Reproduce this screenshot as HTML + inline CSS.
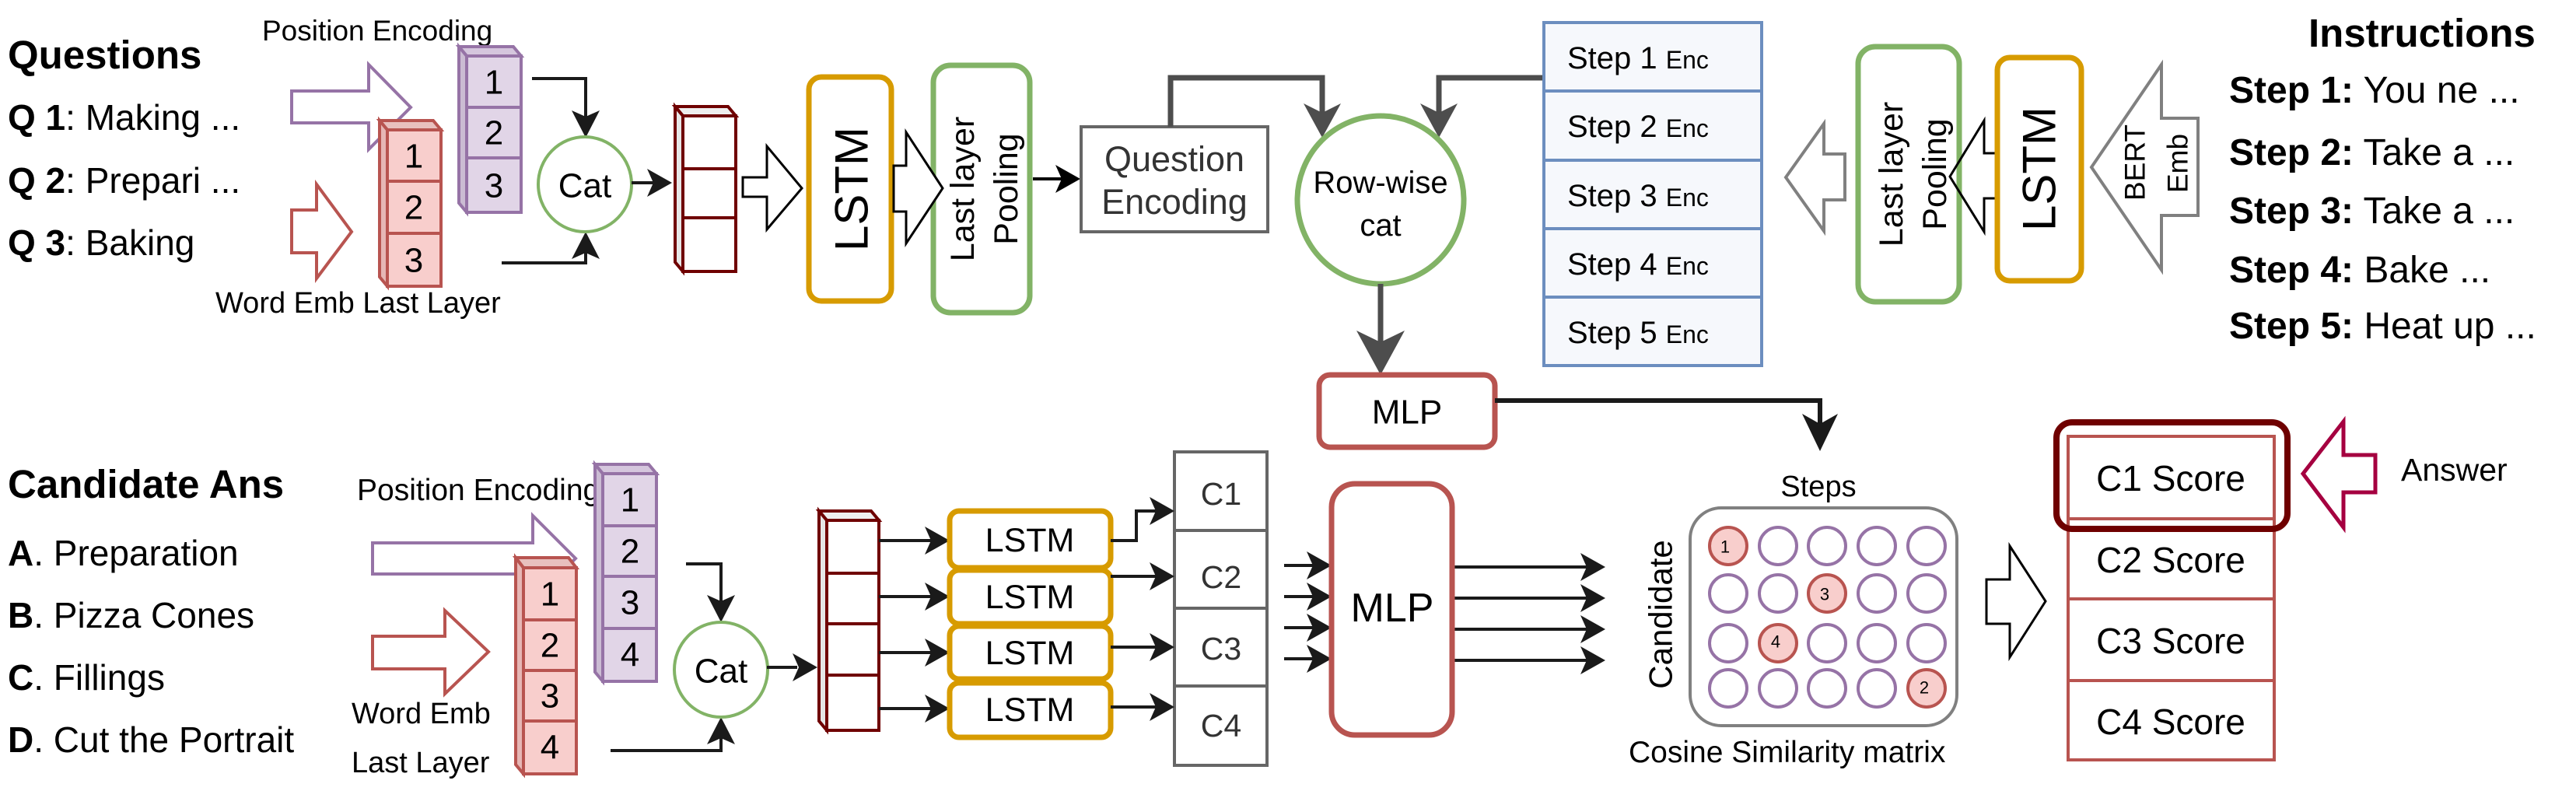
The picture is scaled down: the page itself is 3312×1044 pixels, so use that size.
<!DOCTYPE html>
<html><head><meta charset="utf-8"><style>
html,body{margin:0;padding:0;background:#fff;}
svg{display:block;}
text{font-family:"Liberation Sans",Arial,sans-serif;fill:#000;}
.b{font-weight:bold;}
</style></head><body>
<svg width="3312" height="1044" viewBox="0 0 3312 1044" xmlns="http://www.w3.org/2000/svg">

<text x="10" y="88" class="b" font-size="51">Questions</text>
<text x="10" y="167" font-size="46"><tspan class="b">Q 1</tspan>: Making ...</text>
<text x="10" y="248" font-size="46"><tspan class="b">Q 2</tspan>: Prepari ...</text>
<text x="10" y="328" font-size="46"><tspan class="b">Q 3</tspan>: Baking</text>
<text x="337" y="52" font-size="37">Position Encoding</text>
<text x="277" y="402" font-size="38">Word Emb Last Layer</text>

<polygon points="375,117 474,117 474,83 528,138 474,192 474,158 375,158" fill="#fff" stroke="#9673a6" stroke-width="4"/>
<polygon points="375,270 407,270 407,237 452,298 407,358 407,325 375,325" fill="#fff" stroke="#b85450" stroke-width="4"/>

<g stroke="#9673a6" stroke-width="4">
<polygon points="590,60 660,60 670,72 600,72" fill="#d5c6dd"/>
<polygon points="590,60 600,72 600,273 590,261" fill="#cbbcd3"/>
<rect x="600" y="72" width="70" height="66" fill="#e1d5e7"/>
<rect x="600" y="138" width="70" height="65" fill="#e1d5e7"/>
<rect x="600" y="203" width="70" height="70" fill="#e1d5e7"/>
</g>
<text x="635" y="106" font-size="44" text-anchor="middle" dominant-baseline="central">1</text>
<text x="635" y="171" font-size="44" text-anchor="middle" dominant-baseline="central">2</text>
<text x="635" y="239" font-size="44" text-anchor="middle" dominant-baseline="central">3</text>

<g stroke="#b85450" stroke-width="4">
<polygon points="488,155 557,155 567,167 498,167" fill="#e8c0be"/>
<polygon points="488,155 498,167 498,368 488,356" fill="#e6b7b5"/>
<rect x="498" y="167" width="69" height="66" fill="#f8cecc"/>
<rect x="498" y="233" width="69" height="67" fill="#f8cecc"/>
<rect x="498" y="300" width="69" height="68" fill="#f8cecc"/>
</g>
<text x="532" y="201" font-size="44" text-anchor="middle" dominant-baseline="central">1</text>
<text x="532" y="267" font-size="44" text-anchor="middle" dominant-baseline="central">2</text>
<text x="532" y="335" font-size="44" text-anchor="middle" dominant-baseline="central">3</text>

<path d="M684 101 H753 V150" fill="none" stroke="#1a1a1a" stroke-width="4"/>
<polygon points="753,177 735,142 753,150 771,142" fill="#1a1a1a"/>
<path d="M645 338 H753 V325" fill="none" stroke="#1a1a1a" stroke-width="4"/>
<polygon points="753,298 735,333 753,325 771,333" fill="#1a1a1a"/>
<ellipse cx="752" cy="237" rx="60" ry="61" fill="#fff" stroke="#82b366" stroke-width="4"/>
<text x="752" y="239" font-size="44" text-anchor="middle" dominant-baseline="central">Cat</text>
<path d="M812 235 H840" stroke="#1a1a1a" stroke-width="4"/>
<polygon points="864,235 832,217 840,235 832,253" fill="#1a1a1a"/>

<g stroke="#6f0000" stroke-width="4">
<polygon points="868,137 936,137 946,149 878,149" fill="#eee"/>
<polygon points="868,137 878,149 878,349 868,337" fill="#e6e6e6"/>
<rect x="878" y="149" width="68" height="68" fill="#fff"/>
<rect x="878" y="217" width="68" height="63" fill="#fff"/>
<rect x="878" y="280" width="68" height="69" fill="#fff"/>
</g>
<polygon points="955,228 986,228 986,188 1031,242 986,295 986,253 955,253" fill="#fff" stroke="#000" stroke-width="3"/>

<rect x="1040" y="99" width="106" height="288" rx="16" fill="#fff" stroke="#d79b00" stroke-width="7"/>
<text x="1095" y="243" font-size="60" text-anchor="middle" dominant-baseline="central" transform="rotate(-90 1095 243)">LSTM</text>
<rect x="1200" y="84" width="124" height="318" rx="22" fill="#fff" stroke="#82b366" stroke-width="7"/>
<polygon points="1149,213 1165,213 1165,170 1212,242 1165,313 1165,272 1149,272" fill="#fff" stroke="#000" stroke-width="3"/>
<text x="1238" y="243" font-size="43" text-anchor="middle" dominant-baseline="central" transform="rotate(-90 1238 243)">Last layer</text>
<text x="1294" y="243" font-size="43" text-anchor="middle" dominant-baseline="central" transform="rotate(-90 1294 243)">Pooling</text>
<path d="M1328 230 H1365" stroke="#000" stroke-width="4"/>
<polygon points="1389,230 1357,212 1365,230 1357,248" fill="#000"/>

<rect x="1390" y="163" width="240" height="135" fill="#fff" stroke="#666" stroke-width="4"/>
<text x="1510" y="220" font-size="45" text-anchor="middle" style="fill:#333">Question</text>
<text x="1510" y="275" font-size="45" text-anchor="middle" style="fill:#333">Encoding</text>

<path d="M1505 163 V100 H1700 V150" fill="none" stroke="#4d4d4d" stroke-width="7"/>
<polygon points="1700,177 1676,133 1700,145 1724,133" fill="#4d4d4d"/>
<path d="M1985 100 H1850 V150" fill="none" stroke="#4d4d4d" stroke-width="7"/>
<polygon points="1850,177 1826,133 1850,145 1874,133" fill="#4d4d4d"/>

<ellipse cx="1775" cy="257" rx="107" ry="108" fill="#fff" stroke="#82b366" stroke-width="7"/>
<text x="1775" y="248" font-size="40" text-anchor="middle">Row-wise</text>
<text x="1775" y="303" font-size="40" text-anchor="middle">cat</text>
<path d="M1775 365 V440" stroke="#4d4d4d" stroke-width="7"/>
<polygon points="1775,482 1744,425 1775,440 1806,425" fill="#4d4d4d"/>

<g stroke="#6c8ebf" stroke-width="4" fill="#f6f8fc">
<rect x="1985" y="29" width="280" height="88"/>
<rect x="1985" y="117" width="280" height="89"/>
<rect x="1985" y="206" width="280" height="88"/>
<rect x="1985" y="294" width="280" height="88"/>
<rect x="1985" y="382" width="280" height="88"/>
</g>
<text x="2015" y="88" font-size="40">Step 1 <tspan font-size="32">Enc</tspan></text>
<text x="2015" y="176" font-size="40">Step 2 <tspan font-size="32">Enc</tspan></text>
<text x="2015" y="265" font-size="40">Step 3 <tspan font-size="32">Enc</tspan></text>
<text x="2015" y="353" font-size="40">Step 4 <tspan font-size="32">Enc</tspan></text>
<text x="2015" y="441" font-size="40">Step 5 <tspan font-size="32">Enc</tspan></text>

<polygon points="2296,228 2345,159 2345,198 2372,198 2372,257 2345,257 2345,297" fill="#fff" stroke="#808080" stroke-width="4"/>
<rect x="2389" y="60" width="130" height="328" rx="22" fill="#fff" stroke="#82b366" stroke-width="7"/>
<text x="2432" y="224" font-size="43" text-anchor="middle" dominant-baseline="central" transform="rotate(-90 2432 224)">Last layer</text>
<text x="2488" y="224" font-size="43" text-anchor="middle" dominant-baseline="central" transform="rotate(-90 2488 224)">Pooling</text>
<polygon points="2507,227 2551,155 2551,197 2566,197 2566,255 2551,255 2551,298" fill="none" stroke="#000" stroke-width="3"/>
<rect x="2568" y="74" width="108" height="287" rx="16" fill="#fff" stroke="#d79b00" stroke-width="7"/>
<text x="2622" y="217" font-size="60" text-anchor="middle" dominant-baseline="central" transform="rotate(-90 2622 217)">LSTM</text>
<polygon points="2689,215 2779,83 2779,152 2826,152 2826,277 2779,277 2779,347" fill="#fff" stroke="#808080" stroke-width="4"/>
<text x="2745" y="209" font-size="37" text-anchor="middle" dominant-baseline="central" transform="rotate(-90 2745 209)">BERT</text>
<text x="2800" y="210" font-size="37" text-anchor="middle" dominant-baseline="central" transform="rotate(-90 2800 210)">Emb</text>

<text x="2968" y="60" class="b" font-size="51">Instructions</text>
<text x="2866" y="132" font-size="48"><tspan class="b">Step 1:</tspan> You ne  ...</text>
<text x="2866" y="212" font-size="48"><tspan class="b">Step 2:</tspan> Take a  ...</text>
<text x="2866" y="287" font-size="48"><tspan class="b">Step 3:</tspan> Take a  ...</text>
<text x="2866" y="363" font-size="48"><tspan class="b">Step 4:</tspan> Bake ...</text>
<text x="2866" y="435" font-size="48"><tspan class="b">Step 5:</tspan> Heat up ...</text>

<rect x="1696" y="482" width="226" height="93" rx="14" fill="#fff" stroke="#b85450" stroke-width="7"/>
<text x="1809" y="530" font-size="44" text-anchor="middle" dominant-baseline="central">MLP</text>
<path d="M1922 515 H2340 V550" fill="none" stroke="#1a1a1a" stroke-width="6"/>
<polygon points="2340,580 2317,532 2340,545 2363,532" fill="#1a1a1a"/>

<text x="10" y="640" class="b" font-size="51">Candidate Ans</text>
<text x="10" y="727" font-size="46"><tspan class="b">A</tspan>. Preparation</text>
<text x="10" y="807" font-size="46"><tspan class="b">B</tspan>. Pizza Cones</text>
<text x="10" y="887" font-size="46"><tspan class="b">C</tspan>. Fillings</text>
<text x="10" y="967" font-size="46"><tspan class="b">D</tspan>. Cut the Portrait</text>
<text x="459" y="643" font-size="39">Position Encoding</text>
<text x="452" y="930" font-size="38">Word Emb</text>
<text x="452" y="993" font-size="38">Last Layer</text>

<polygon points="479,698 685,698 685,663 740,718 685,773 685,738 479,738" fill="#fff" stroke="#9673a6" stroke-width="4"/>
<polygon points="479,818 572,818 572,785 628,838 572,892 572,860 479,860" fill="#fff" stroke="#b85450" stroke-width="4"/>

<g stroke="#9673a6" stroke-width="4">
<polygon points="765,597 834,597 844,609 775,609" fill="#d5c6dd"/>
<polygon points="765,597 775,609 775,876 765,864" fill="#cbbcd3"/>
<rect x="775" y="609" width="69" height="67" fill="#e1d5e7"/>
<rect x="775" y="676" width="69" height="65" fill="#e1d5e7"/>
<rect x="775" y="741" width="69" height="67" fill="#e1d5e7"/>
<rect x="775" y="808" width="69" height="68" fill="#e1d5e7"/>
</g>
<text x="810" y="643" font-size="44" text-anchor="middle" dominant-baseline="central">1</text>
<text x="810" y="709" font-size="44" text-anchor="middle" dominant-baseline="central">2</text>
<text x="810" y="775" font-size="44" text-anchor="middle" dominant-baseline="central">3</text>
<text x="810" y="842" font-size="44" text-anchor="middle" dominant-baseline="central">4</text>

<g stroke="#b85450" stroke-width="4">
<polygon points="663,717 731,717 741,730 673,730" fill="#e8c0be"/>
<polygon points="663,717 673,730 673,995 663,983" fill="#e6b7b5"/>
<rect x="673" y="730" width="68" height="67" fill="#f8cecc"/>
<rect x="673" y="797" width="68" height="65" fill="#f8cecc"/>
<rect x="673" y="862" width="68" height="65" fill="#f8cecc"/>
<rect x="673" y="927" width="68" height="68" fill="#f8cecc"/>
</g>
<text x="707" y="764" font-size="44" text-anchor="middle" dominant-baseline="central">1</text>
<text x="707" y="830" font-size="44" text-anchor="middle" dominant-baseline="central">2</text>
<text x="707" y="895" font-size="44" text-anchor="middle" dominant-baseline="central">3</text>
<text x="707" y="961" font-size="44" text-anchor="middle" dominant-baseline="central">4</text>

<path d="M882 725 H927 V775" fill="none" stroke="#1a1a1a" stroke-width="4"/>
<polygon points="927,800 909,765 927,773 945,765" fill="#1a1a1a"/>
<path d="M785 965 H927 V948" fill="none" stroke="#1a1a1a" stroke-width="4"/>
<polygon points="927,922 909,957 927,949 945,957" fill="#1a1a1a"/>
<ellipse cx="927" cy="861" rx="60" ry="61" fill="#fff" stroke="#82b366" stroke-width="4"/>
<text x="927" y="863" font-size="44" text-anchor="middle" dominant-baseline="central">Cat</text>
<path d="M986 858 H1025" stroke="#1a1a1a" stroke-width="4"/>
<polygon points="1051,858 1019,840 1027,858 1019,876" fill="#1a1a1a"/>

<g stroke="#6f0000" stroke-width="4">
<polygon points="1053,657 1120,657 1130,669 1063,669" fill="#eee"/>
<polygon points="1053,657 1063,669 1063,939 1053,927" fill="#e6e6e6"/>
<rect x="1063" y="669" width="67" height="68" fill="#fff"/>
<rect x="1063" y="737" width="67" height="65" fill="#fff"/>
<rect x="1063" y="802" width="67" height="66" fill="#fff"/>
<rect x="1063" y="868" width="67" height="71" fill="#fff"/>
</g>

<g stroke="#1a1a1a" stroke-width="4">
<path d="M1130 695 H1197 M1130 767 H1197 M1130 839 H1197 M1130 911 H1197"/>
</g>
<g fill="#1a1a1a">
<polygon points="1221,695 1189,677 1197,695 1189,713"/>
<polygon points="1221,767 1189,749 1197,767 1189,785"/>
<polygon points="1221,839 1189,821 1197,839 1189,857"/>
<polygon points="1221,911 1189,893 1197,911 1189,929"/>
</g>

<g fill="#fff" stroke="#d79b00" stroke-width="7">
<rect x="1221" y="657" width="207" height="73" rx="12"/>
<rect x="1221" y="733" width="207" height="69" rx="12"/>
<rect x="1221" y="805" width="207" height="68" rx="12"/>
<rect x="1221" y="878" width="207" height="70" rx="12"/>
</g>
<text x="1324" y="695" font-size="43" text-anchor="middle" dominant-baseline="central">LSTM</text>
<text x="1324" y="768" font-size="43" text-anchor="middle" dominant-baseline="central">LSTM</text>
<text x="1324" y="840" font-size="43" text-anchor="middle" dominant-baseline="central">LSTM</text>
<text x="1324" y="913" font-size="43" text-anchor="middle" dominant-baseline="central">LSTM</text>

<g fill="#fff" stroke="#666" stroke-width="4">
<rect x="1510" y="581" width="119" height="101"/>
<rect x="1510" y="682" width="119" height="100"/>
<rect x="1510" y="782" width="119" height="100"/>
<rect x="1510" y="882" width="119" height="102"/>
</g>
<text x="1570" y="635" font-size="41" text-anchor="middle" dominant-baseline="central" style="fill:#333">C1</text>
<text x="1570" y="742" font-size="41" text-anchor="middle" dominant-baseline="central" style="fill:#333">C2</text>
<text x="1570" y="834" font-size="41" text-anchor="middle" dominant-baseline="central" style="fill:#333">C3</text>
<text x="1570" y="933" font-size="41" text-anchor="middle" dominant-baseline="central" style="fill:#333">C4</text>

<g stroke="#1a1a1a" stroke-width="4" fill="none">
<path d="M1428 695 H1461 V657 H1486"/>
<path d="M1428 741 H1486 M1428 832 H1486 M1428 909 H1486"/>
<path d="M1651 727 H1690 M1651 767 H1690 M1651 807 H1690 M1651 847 H1690"/>
<path d="M1867 729 H2040 M1867 769 H2040 M1867 809 H2040 M1867 849 H2040"/>
</g>
<g fill="#1a1a1a">
<polygon points="1510,657 1478,639 1486,657 1478,675"/>
<polygon points="1510,741 1478,723 1486,741 1478,759"/>
<polygon points="1510,832 1478,814 1486,832 1478,850"/>
<polygon points="1510,909 1478,891 1486,909 1478,927"/>
<polygon points="1712,727 1680,709 1688,727 1680,745"/>
<polygon points="1712,767 1680,749 1688,767 1680,785"/>
<polygon points="1712,807 1680,789 1688,807 1680,825"/>
<polygon points="1712,847 1680,829 1688,847 1680,865"/>
<polygon points="2064,729 2032,711 2040,729 2032,747"/>
<polygon points="2064,769 2032,751 2040,769 2032,787"/>
<polygon points="2064,809 2032,791 2040,809 2032,827"/>
<polygon points="2064,849 2032,831 2040,849 2032,867"/>
</g>

<rect x="1712" y="622" width="155" height="323" rx="30" fill="#fff" stroke="#b85450" stroke-width="7"/>
<text x="1790" y="782" font-size="52" text-anchor="middle" dominant-baseline="central">MLP</text>

<text x="2135" y="790" font-size="42" text-anchor="middle" dominant-baseline="central" transform="rotate(-90 2135 790)">Candidate</text>
<text x="2338" y="638" font-size="38" text-anchor="middle">Steps</text>
<rect x="2173" y="653" width="343" height="280" rx="40" fill="#fff" stroke="#808080" stroke-width="4"/>
<g fill="none" stroke="#9673a6" stroke-width="4">
<circle cx="2286" cy="702" r="24"/><circle cx="2349" cy="702" r="24"/><circle cx="2413" cy="702" r="24"/><circle cx="2477" cy="702" r="24"/>
<circle cx="2222" cy="763" r="24"/><circle cx="2286" cy="763" r="24"/><circle cx="2413" cy="763" r="24"/><circle cx="2477" cy="763" r="24"/>
<circle cx="2222" cy="827" r="24"/><circle cx="2349" cy="827" r="24"/><circle cx="2413" cy="827" r="24"/><circle cx="2477" cy="827" r="24"/>
<circle cx="2222" cy="885" r="24"/><circle cx="2286" cy="885" r="24"/><circle cx="2349" cy="885" r="24"/><circle cx="2413" cy="885" r="24"/>
</g>
<g fill="#f8cecc" stroke="#b85450" stroke-width="4">
<circle cx="2222" cy="702" r="24"/><circle cx="2349" cy="763" r="24"/><circle cx="2286" cy="827" r="24"/><circle cx="2477" cy="885" r="24"/>
</g>
<text x="2218" y="703" font-size="22" text-anchor="middle" dominant-baseline="central">1</text>
<text x="2346" y="764" font-size="22" text-anchor="middle" dominant-baseline="central">3</text>
<text x="2283" y="825" font-size="22" text-anchor="middle" dominant-baseline="central">4</text>
<text x="2474" y="884" font-size="22" text-anchor="middle" dominant-baseline="central">2</text>
<text x="2094" y="980" font-size="39">Cosine Similarity matrix</text>

<polygon points="2554,745 2584,745 2584,702 2630,773 2584,845 2584,802 2554,802" fill="#fff" stroke="#000" stroke-width="3"/>

<g fill="#fff" stroke="#b85450" stroke-width="4">
<rect x="2659" y="561" width="265" height="106"/>
<rect x="2659" y="667" width="265" height="103"/>
<rect x="2659" y="770" width="265" height="105"/>
<rect x="2659" y="875" width="265" height="102"/>
</g>
<rect x="2644" y="543" width="297" height="137" rx="20" fill="none" stroke="#6f0000" stroke-width="8"/>
<text x="2791" y="615" font-size="46" text-anchor="middle" dominant-baseline="central">C1 Score</text>
<text x="2791" y="720" font-size="46" text-anchor="middle" dominant-baseline="central">C2 Score</text>
<text x="2791" y="824" font-size="46" text-anchor="middle" dominant-baseline="central">C3 Score</text>
<text x="2791" y="928" font-size="46" text-anchor="middle" dominant-baseline="central">C4 Score</text>

<polygon points="2961,609 3013,542 3013,585 3054,585 3054,633 3013,633 3013,678" fill="#fff" stroke="#a50040" stroke-width="5"/>
<text x="3087" y="618" font-size="41">Answer</text>
</svg>
</body></html>
